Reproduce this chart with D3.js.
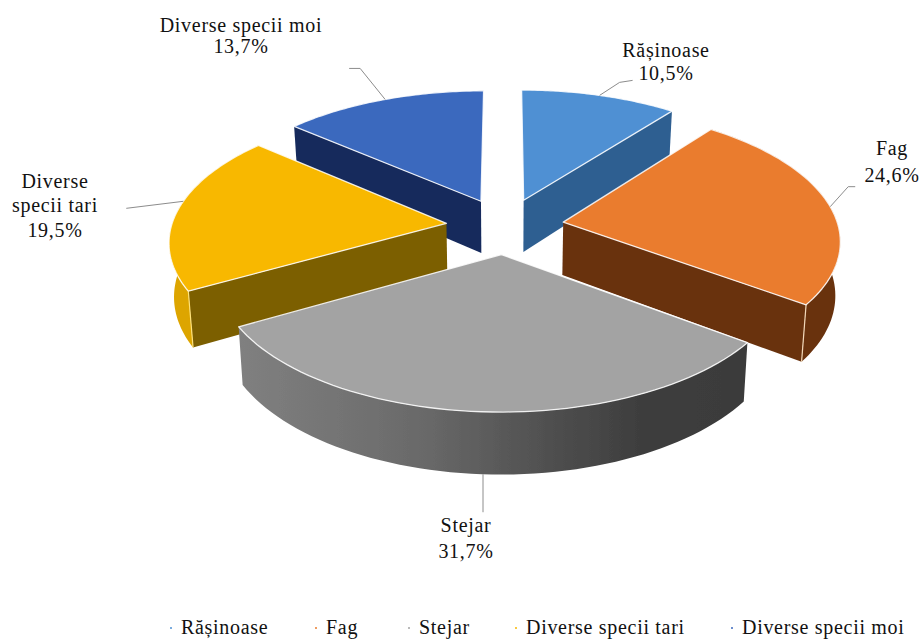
<!DOCTYPE html>
<html><head><meta charset="utf-8">
<script src="https://cdn.jsdelivr.net/npm/d3@7/dist/d3.min.js"></script>
<style>html,body{margin:0;padding:0;background:#fff}svg{display:block}</style>
</head><body><svg id="c" width="921" height="641"></svg>
<script>
// data
const categories = ["Rășinoase","Fag","Stejar","Diverse specii tari","Diverse specii moi"];
const shares = [10.5,24.6,31.7,19.5,13.7];
const shareLabels = ["10,5%","24,6%","31,7%","19,5%","13,7%"];
// styles
const topColors = ["#4F90D3","#EA7C2E","#A3A3A3","#F8B800","#3B69BE"];
const sideColors = ["#2F5F91","#693210","#555555","#7C5E00","#14295C"];
const arcColors = [null,"#693210","url(#greyWall)","#DDA500",null];
const edgeColors = ["none","#F3D9B8","none","#FFE27A","none"];
const frontRadial = ["end","end",null,"start","start"];
// layout
const view = {cx:505, cy:226, rx:275, ry:130, k:0.125, burst:0.2145, depth:53};
const labelLayout = [
 {lines:["Rășinoase",shareLabels[0]], x:666, y:[57,80], elbow:[[20,-13],[33,-15]], a:18.9},
 {lines:["Fag",shareLabels[1]], x:892, y:[155,182], elbow:[[18,-20],[25,-20]], a:83},
 {lines:["Stejar",shareLabels[2]], x:466, y:[532,558], drop:38},
 {lines:["Diverse","specii tari",shareLabels[3]], x:55, y:[188,212,237], elbow:[[-57,7]], a:280},
 {lines:["Diverse specii moi",shareLabels[4]], x:241, y:[32,53], elbow:[[-25,-31],[-36,-31]], a:336}
];
const legendX = [181,326,419,526,742];
const legendY = 634;
const FS = 20, LS = 0.7;

const svg = d3.select("#c");
const defs = svg.append("defs");
const g0 = defs.append("linearGradient").attr("id","greyWall").attr("gradientUnits","userSpaceOnUse")
 .attr("x1",238).attr("x2",752).attr("y1",0).attr("y2",0);
[[0,"#808080"],[0.35,"#6A6A6A"],[0.6,"#505050"],[0.78,"#3E3E3E"],[1,"#3A3A3A"]].forEach(s=>g0.append("stop").attr("offset",s[0]).attr("stop-color",s[1]));
defs.append("filter").attr("id","soft").append("feGaussianBlur").attr("stdDeviation",0.45);

const pie = d3.pie().sort(null).value(d=>d)(shares);
function project(angle, radius, bis, down){
  const X = radius*Math.sin(angle)+view.burst*Math.sin(bis);
  const Y = -radius*Math.cos(angle)-view.burst*Math.cos(bis);
  const s = 1/(1-view.k*Y);
  const shrink = down?0.985:1;
  return [view.cx+view.rx*X*s*shrink, view.cy+view.ry*Y*s+(down?view.depth*s:0)];
}
const line = d3.line();
const root = svg.append("g").attr("filter","url(#soft)");
const order = [4,0,3,1,2];
order.forEach(i=>{
  const p = pie[i], bis=(p.startAngle+p.endAngle)/2;
  const angs = d3.range(0,61).map(t=>p.startAngle+(p.endAngle-p.startAngle)*t/60);
  const topArc = angs.map(a=>project(a,1,bis,false));
  const botArc = angs.map(a=>project(a,1,bis,true));
  const apexT = project(0,0,bis,false), apexB = project(0,0,bis,true);
  const g = root.append("g");
  if(arcColors[i]) g.append("path").attr("d",line(topArc.concat(botArc.slice().reverse()))+"Z").attr("fill",arcColors[i]);
  if(frontRadial[i]){
    const idx = frontRadial[i]==="start"?0:60;
    g.append("path").attr("d",line([apexT,topArc[idx],botArc[idx],apexB])+"Z").attr("fill",sideColors[i]);
    if(edgeColors[i]!=="none") g.append("path").attr("d",line([topArc[idx],botArc[idx]])).attr("stroke",edgeColors[i]).attr("stroke-width",1.2).attr("fill","none");
  }
  g.append("path").attr("d",line([apexT].concat(topArc))+"Z").attr("fill",topColors[i])
   .attr("stroke","#fff").attr("stroke-opacity",0.85).attr("stroke-width",1.3).attr("stroke-linejoin","round");
});

// leader lines and labels
const lead = svg.append("g").attr("fill","none").attr("stroke","#8c8c8c").attr("stroke-width",1);
labelLayout.forEach((l,i)=>{
  const p=pie[i], bis=(p.startAngle+p.endAngle)/2;
  if(l.drop){
    const a=project(bis,1,bis,true);
    lead.append("path").attr("d",line([[483,a[1]],[483,a[1]+l.drop]]));
  } else {
    const a=project(l.a*Math.PI/180,1,bis,false);
    lead.append("path").attr("d",line([a].concat(l.elbow.map(e=>[a[0]+e[0],a[1]+e[1]]))));
  }
  l.lines.forEach((t,j)=>svg.append("text").attr("x",l.x).attr("y",l.y[j]).attr("text-anchor","middle")
    .attr("font-family","'Liberation Serif',serif").attr("font-size",FS).attr("letter-spacing",LS).attr("fill","#111").text(t));
});
// legend
categories.forEach((c,i)=>{
  svg.append("circle").attr("cx",legendX[i]-10).attr("cy",legendY-6).attr("r",1).attr("fill",topColors[i]);
  svg.append("text").attr("x",legendX[i]).attr("y",legendY).attr("font-family","'Liberation Serif',serif").attr("font-size",FS).attr("letter-spacing",LS).attr("fill","#111").text(c);
});
</script></body></html>
